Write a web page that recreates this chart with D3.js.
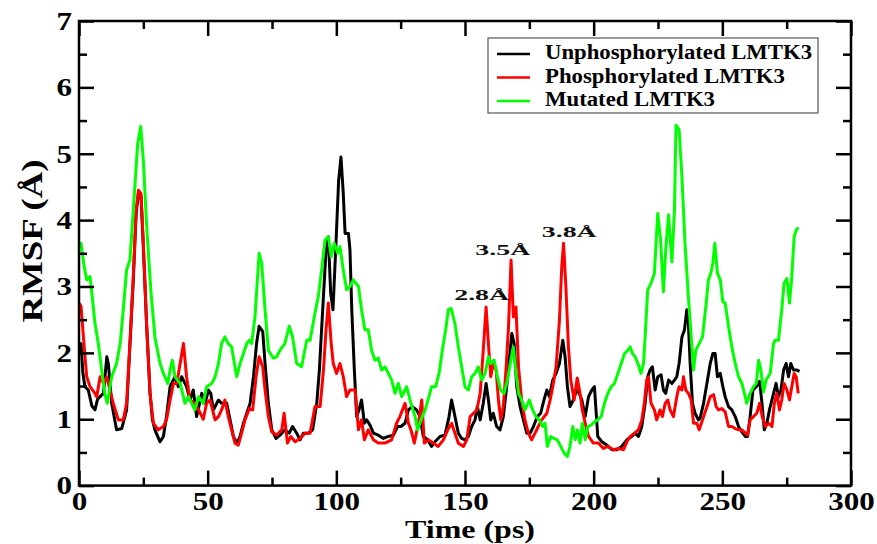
<!DOCTYPE html>
<html><head><meta charset="utf-8">
<script src="https://cdn.jsdelivr.net/npm/d3@7"></script>
<style>body{margin:0;background:#fff}svg{display:block}</style>
</head><body>
<svg id="chart" width="877" height="544"></svg>
<script>
const xMajorTicks = [0,50,100,150,200,250,300];
const xMinorTicks = [25,75,125,175,225,275];
const yMajorTicks = [0,1,2,3,4,5,6,7];
const yMinorTicks = [0.5,1.5,2.5,3.5,4.5,5.5,6.5];
const seriesNames = ["Unphosphorylated LMTK3","Phosphorylated LMTK3","Mutated LMTK3"];
const seriesColors = ["#000000","#ff0000","#00ff00"];

const unphosphorylated = [[0,2.1],[0.8,2.14],[1.5,1.7],[2.3,1.49],[3.6,1.44],[5,1.2],[6.2,1.14],[7.2,1.3],[8.2,1.34],[9.5,1.39],[10.8,1.94],[11.4,1.84],[12.7,1.24],[14.6,0.84],[16.6,0.86],[18.5,1.14],[19.8,2.14],[21.1,3.1],[22.2,4.1],[23.1,4.4],[24.1,4.35],[25,3.6],[26.3,2.4],[27.6,1.4],[28.5,1.0],[29.5,0.84],[31.5,0.66],[32.8,0.74],[34,1.04],[35.4,1.49],[37.3,1.64],[38.6,1.49],[39.9,1.64],[41.8,1.49],[43.1,1.29],[44.4,1.44],[45.7,1.04],[47.7,1.39],[49,1.24],[50.3,1.44],[51.2,1.39],[52.2,1.14],[54.2,1.29],[55.4,1.24],[57.4,1.24],[58.7,0.99],[60,0.74],[61.3,0.64],[62.6,0.74],[63.9,0.94],[65.2,1.09],[66.5,1.24],[67.8,1.64],[69,2.14],[70,2.4],[71.4,2.32],[72.3,1.84],[73.6,1.24],[74.9,0.84],[76.6,0.71],[78.1,0.76],[80,0.84],[81.7,0.79],[83,0.89],[84.6,0.79],[85.9,0.69],[87.2,0.79],[89.1,0.79],[90.8,0.84],[92.4,1.24],[93.4,1.74],[94.7,2.65],[96,3.55],[96.9,3.75],[97.8,2.9],[98.7,2.65],[99.8,3.6],[100.9,4.6],[101.8,4.95],[102.7,4.4],[103.4,3.8],[104.7,3.8],[105.3,3.55],[106,2.65],[107,1.74],[107.9,1.04],[108.8,1.14],[109.8,1.29],[110.9,0.94],[111.8,0.99],[113.1,0.91],[114.4,0.79],[116.3,0.76],[118.3,0.71],[120.2,0.74],[122.2,0.76],[123.8,0.89],[125.1,0.89],[126.7,0.94],[128,1.14],[129.5,1.19],[131.2,1.14],[132.5,1.04],[133.8,0.74],[135.5,0.69],[137,0.59],[138.3,0.66],[140.3,0.74],[142.2,0.76],[143.8,1.04],[144.8,1.29],[146.1,1.04],[147.4,0.79],[148.7,0.71],[150,0.69],[151.3,0.74],[152.6,0.89],[153.9,0.99],[154.8,1.19],[155.9,0.99],[157.1,1.24],[158.2,1.54],[159.1,1.29],[160,0.99],[161,1.09],[162.3,0.89],[163.6,0.84],[164.9,1.04],[166.2,1.49],[167.3,1.94],[168.2,2.29],[169.1,2.14],[170.1,1.49],[171.4,1.19],[172.7,0.99],[174,0.79],[175.3,0.79],[176.6,0.89],[178.1,1.04],[179.4,1.09],[180.7,1.29],[181.8,1.44],[182.8,1.34],[184.1,1.59],[185.4,1.69],[186.7,1.84],[188,2.19],[188.9,1.94],[189.8,1.49],[190.8,1.19],[192.1,1.29],[193.4,1.44],[194.4,1.39],[195.4,1.29],[196.7,1.04],[198,1.34],[199.3,1.44],[200.3,1.49],[200.9,1.14],[201.6,0.74],[203.2,0.66],[205.1,0.61],[207.1,0.54],[209,0.54],[210.9,0.59],[212.9,0.69],[214.8,0.74],[216.1,0.79],[217.4,0.74],[218.7,0.89],[220,1.24],[221,1.64],[221.9,1.74],[222.8,1.79],[223.9,1.44],[224.9,1.64],[226.2,1.67],[227.1,1.44],[228,1.39],[229.1,1.59],[230.4,1.54],[231.4,1.59],[232.3,1.64],[233.2,1.84],[234.3,2.24],[235.3,2.35],[236.2,2.65],[236.8,2.45],[237.5,1.84],[238.4,1.24],[239.4,1.09],[240.7,0.99],[241.4,1.02],[242.7,1.24],[244,1.54],[245.3,1.84],[246.3,1.99],[247.2,1.99],[248.1,1.64],[249.2,1.69],[250.2,1.49],[251.1,1.34],[252.4,1.19],[253.7,1.14],[255,1.04],[256.3,0.89],[257.6,0.81],[258.9,0.74],[259.8,0.74],[260.8,1.04],[261.9,1.44],[263.2,1.49],[264.5,1.57],[265.4,1.24],[266.3,0.84],[267.3,0.94],[268.3,1.14],[269.6,1.34],[270.9,1.54],[271.8,1.34],[272.8,1.44],[273.8,1.74],[274.8,1.84],[275.7,1.64],[276.6,1.84],[277.7,1.74],[279,1.74],[280,1.72]];

const phosphorylated = [[0,2.75],[0.8,2.7],[2,2.1],[3,1.64],[4.3,1.49],[6.2,1.39],[6.9,1.34],[8.2,1.64],[9.5,1.54],[10.8,1.64],[12,1.44],[13.3,1.24],[15.3,0.99],[17.2,0.99],[18.5,1.24],[19.8,2.14],[21.1,3.15],[22.2,4.15],[23.1,4.45],[24.1,4.4],[25,3.65],[26.3,2.4],[27.6,1.39],[28.9,0.94],[30.8,0.84],[32.8,0.89],[34,0.99],[35.4,1.29],[36.7,1.54],[38,1.54],[39.3,1.84],[40.6,2.14],[41.8,1.64],[43.1,1.29],[45,1.24],[47,1.1],[48.3,1.0],[49.6,1.24],[50.9,1.29],[52.9,0.99],[54.2,1.04],[55.4,1.14],[56.7,1.29],[58,1.04],[59.3,0.84],[60.6,0.64],[61.9,0.61],[63.2,0.79],[64.5,0.99],[66.2,1.16],[67.5,1.14],[68.8,1.64],[70,1.94],[71.4,1.79],[72.3,1.44],[73.6,1.04],[74.9,0.81],[76.8,0.76],[78.8,0.84],[79.7,1.09],[81,0.64],[82.3,0.74],[84,0.66],[85.9,0.71],[87.8,0.79],[89.8,0.79],[91.7,1.19],[93.7,1.19],[95,1.74],[96,2.35],[96.9,2.75],[98,2.14],[98.8,1.84],[100.1,1.69],[101.4,1.84],[102.7,1.64],[104,1.34],[105.3,1.44],[107.3,1.44],[108.6,0.84],[109.8,0.99],[110.9,0.69],[112.4,0.84],[114.4,0.69],[116.3,0.64],[118.9,0.64],[121.5,0.69],[123.4,0.94],[124.7,1.04],[126.7,1.24],[128,0.94],[129,0.84],[130.3,0.64],[131.9,0.94],[133.2,1.29],[134.2,0.64],[135.8,0.69],[137.7,0.64],[139.6,0.59],[141.6,0.69],[143.3,0.84],[144.8,0.94],[146.1,0.79],[147.4,0.64],[149.4,0.59],[150.7,0.69],[152,1.04],[153.3,1.09],[154.6,1.14],[155.9,1.39],[157.1,2.04],[158.2,2.69],[159.1,2.14],[160,1.64],[161,1.84],[162.1,1.74],[163,1.29],[163.9,0.99],[164.9,1.19],[166,1.79],[166.9,2.39],[167.9,3.4],[168.8,2.54],[169.8,2.69],[170.8,1.79],[172,1.29],[173.3,0.99],[174.6,0.79],[175.9,0.69],[177.2,0.79],[178.5,0.89],[179.8,0.99],[181.8,1.09],[183.1,1.29],[184.1,1.49],[185.4,1.79],[186.7,2.49],[187.6,3.3],[188.3,3.65],[189.2,3.0],[190.2,2.09],[191.1,1.59],[192.4,1.29],[193.6,1.62],[194.7,1.39],[195.6,1.14],[196.7,0.94],[198,0.74],[199.9,0.64],[201.9,0.64],[203.8,0.56],[205.7,0.59],[207.7,0.54],[209.6,0.56],[211.6,0.54],[212.9,0.66],[214.2,0.74],[215.9,0.79],[217.4,0.84],[218.7,0.99],[219.7,1.24],[220.6,1.59],[221.3,1.64],[222.3,1.24],[223.6,1.14],[224.5,0.99],[225.8,1.14],[226.7,1.04],[227.8,1.24],[228.8,1.29],[229.7,1.14],[231,1.04],[232.3,1.34],[233.2,1.49],[234.3,1.44],[234.9,1.64],[235.8,1.44],[236.8,1.39],[237.9,1.29],[238.8,0.94],[240.1,0.94],[241,0.84],[242.3,0.99],[243.6,1.14],[245.3,1.34],[246.6,1.37],[247.6,1.19],[248.5,1.14],[249.8,1.16],[251.1,1.11],[252.4,0.89],[253.7,0.89],[255,0.86],[256.3,0.84],[257.6,0.84],[258.9,0.79],[259.8,0.76],[260.8,0.99],[262.1,1.04],[263.4,1.09],[264.5,1.24],[265.5,1.04],[266.7,0.89],[268,0.94],[269.3,0.89],[270.2,1.24],[271.2,1.39],[272.2,1.14],[273.1,1.29],[274,1.54],[275.1,1.44],[276.1,1.29],[277,1.49],[277.9,1.69],[278.7,1.64],[279.5,1.39]];

const mutated = [[0,3.65],[0.8,3.65],[2,3.3],[3,3.1],[4.3,3.15],[6.2,2.45],[7.5,2.14],[8.8,1.74],[10,1.39],[11,1.24],[12.7,1.64],[14.6,1.84],[16,2.14],[17.2,2.65],[18.5,3.25],[19.8,3.4],[21.1,4.15],[22.8,5.15],[24,5.41],[25,4.9],[26.3,3.9],[28,2.9],[29.5,2.24],[31.5,1.84],[32.8,1.69],[34.5,1.54],[35.4,1.74],[36.3,1.89],[37.3,1.64],[39.3,1.54],[41.2,1.24],[42.5,1.34],[45,1.14],[46.4,1.34],[48.3,1.24],[49.6,1.49],[51.6,1.54],[52.9,1.64],[54.2,1.84],[55.4,2.14],[56.7,2.24],[58,2.14],[59.3,2.09],[61.3,1.64],[62.6,1.84],[63.9,1.99],[65.2,2.14],[66.2,2.19],[67.1,2.14],[68.4,2.55],[70,3.5],[71,3.35],[72.3,2.65],[73.6,2.04],[75.5,1.92],[76.8,1.94],[78.1,2.04],[80,2.14],[81.7,2.4],[83,2.24],[84.6,1.84],[86.5,1.79],[88.5,2.19],[89.8,2.19],[91.7,2.6],[93,2.85],[94.3,3.25],[95.6,3.7],[96.9,3.75],[98,3.45],[99.2,3.65],[100.5,3.5],[101.4,3.6],[102.7,3.25],[104,2.95],[105.3,3.0],[106.6,3.1],[108.6,3.0],[109.8,2.65],[111.1,2.35],[112.4,2.35],[113.7,2.04],[115,1.89],[116.3,1.92],[117.6,1.74],[118.9,1.79],[120.2,1.69],[121.5,1.59],[122.8,1.39],[124.1,1.54],[125.4,1.34],[127.3,1.49],[129,1.24],[130.6,1.04],[131.6,0.84],[132.9,0.99],[134.5,1.14],[136,1.34],[137,1.49],[138.6,1.49],[139.9,1.69],[141.2,2.04],[142.5,2.35],[143.5,2.65],[144.6,2.67],[146.1,2.44],[147.4,2.09],[148.7,1.79],[150,1.49],[151.3,1.44],[152.6,1.64],[153.9,1.69],[155.2,1.79],[156.5,1.59],[157.8,1.69],[159.1,1.94],[160,1.84],[161.3,1.89],[162.6,1.64],[163.9,1.44],[165.2,1.39],[166.5,1.59],[167.8,1.89],[168.8,2.09],[169.8,1.69],[170.8,1.39],[172,1.29],[173.3,1.14],[175,1.29],[176.3,1.14],[177.6,1.04],[178.9,0.99],[180.2,0.89],[181.1,0.94],[182,0.59],[183.3,0.74],[184.6,0.71],[185.9,0.69],[187.2,0.59],[188.5,0.49],[189.8,0.44],[190.8,0.59],[191.9,0.89],[192.8,0.69],[193.7,0.84],[194.7,0.64],[195.6,0.94],[196.7,0.69],[197.7,0.89],[199,0.91],[200.3,0.96],[201.6,0.99],[202.9,1.04],[204.2,1.24],[205.5,1.39],[206.8,1.49],[208.1,1.54],[209.4,1.69],[210.7,1.84],[212,1.99],[213.3,2.04],[214.2,2.09],[215.1,1.99],[216.1,1.94],[217.2,1.84],[218.4,1.69],[219.4,1.84],[220.3,2.45],[221,2.95],[222.3,3.05],[223.6,3.2],[224.9,4.1],[226,3.7],[227.1,2.92],[228,3.55],[229.1,4.08],[230.4,3.37],[231.4,4.15],[232,5.43],[233.2,5.36],[234.3,4.65],[235.5,3.65],[236.8,2.85],[237.9,2.24],[238.8,1.74],[239.7,2.04],[241,2.14],[242.3,2.24],[243.6,2.7],[244.6,3.1],[245.5,3.2],[246.3,3.35],[247.1,3.65],[248.1,3.2],[249.2,3.1],[250.2,2.77],[251.1,2.75],[252.4,2.4],[253.7,2.09],[255,1.84],[256.3,1.64],[257.6,1.54],[258.9,1.34],[259.5,1.24],[260.8,1.39],[262.1,1.49],[263.2,1.54],[264.1,1.89],[265,1.74],[266,1.41],[267,1.59],[268.6,1.69],[269.9,2.14],[270.5,2.19],[271.8,2.19],[273.1,2.65],[274,3.05],[275.1,3.12],[276.1,2.75],[277,3.15],[277.9,3.75],[278.7,3.85],[279.6,3.89]];

const annotationLabels = ["2.8Å","3.5Å","3.8Å"];
const annotationTimes = [156.5,164.7,190.5];
const annotationValues = [2.795,3.473,3.748];

const svg = d3.select("#chart");
const W = 877, H = 544;
const margin = {left:79, right:26, top:21, bottom:58.4};
const x = d3.scaleLinear().domain([0,300]).range([margin.left, W - margin.right]);
const y = d3.scaleLinear().domain([0,7]).range([H - margin.bottom, margin.top]);
const FONT = "'Liberation Serif','Times New Roman',serif";

svg.append("rect").attr("width",W).attr("height",H).attr("fill","#fff");

// lines
const line = d3.line().x(d => x(d[0])).y(d => y(d[1]));
[unphosphorylated, phosphorylated, mutated].forEach((s,i) => {
  svg.append("path").datum(s).attr("d", line)
    .attr("fill","none").attr("stroke",seriesColors[i])
    .attr("stroke-width",3).attr("stroke-linejoin","round");
});

function styleTicks(g){
  g.select(".domain").remove();
  g.selectAll(".tick line").attr("stroke","#000").attr("stroke-width",2.5);
  g.selectAll(".tick text")
    .attr("font-family",FONT).attr("font-weight","bold").attr("font-size",26)
    .attr("fill","#000")
    .attr("textLength", d => String(d).length * 15.5)
    .attr("lengthAdjust","spacingAndGlyphs");
}
const yB = H - margin.bottom;
// bottom
svg.append("g").attr("transform",`translate(0,${yB})`)
  .call(d3.axisBottom(x).tickValues(xMinorTicks).tickSizeInner(-8).tickSizeOuter(0).tickFormat(""))
  .call(styleTicks);
svg.append("g").attr("transform",`translate(0,${yB})`)
  .call(d3.axisBottom(x).tickValues(xMajorTicks).tickSizeInner(-15).tickSizeOuter(0).tickPadding(6).tickFormat(d3.format("d")))
  .call(styleTicks);
// top
svg.append("g").attr("transform",`translate(0,${margin.top})`)
  .call(d3.axisTop(x).tickValues(xMinorTicks).tickSizeInner(-8).tickSizeOuter(0).tickFormat(""))
  .call(styleTicks);
svg.append("g").attr("transform",`translate(0,${margin.top})`)
  .call(d3.axisTop(x).tickValues(xMajorTicks).tickSizeInner(-15).tickSizeOuter(0).tickFormat(""))
  .call(styleTicks);
// left
svg.append("g").attr("transform",`translate(${margin.left},0)`)
  .call(d3.axisLeft(y).tickValues(yMinorTicks).tickSizeInner(-8).tickSizeOuter(0).tickFormat(""))
  .call(styleTicks);
svg.append("g").attr("transform",`translate(${margin.left},0)`)
  .call(d3.axisLeft(y).tickValues(yMajorTicks).tickSizeInner(-15).tickSizeOuter(0).tickPadding(7).tickFormat(d3.format("d")))
  .call(styleTicks);
// right
svg.append("g").attr("transform",`translate(${W-margin.right},0)`)
  .call(d3.axisRight(y).tickValues(yMinorTicks).tickSizeInner(-8).tickSizeOuter(0).tickFormat(""))
  .call(styleTicks);
svg.append("g").attr("transform",`translate(${W-margin.right},0)`)
  .call(d3.axisRight(y).tickValues(yMajorTicks).tickSizeInner(-15).tickSizeOuter(0).tickFormat(""))
  .call(styleTicks);

// frame
svg.append("rect").attr("x",x(0)).attr("y",y(7)).attr("width",x(300)-x(0)).attr("height",y(0)-y(7))
  .attr("fill","none").attr("stroke","#000").attr("stroke-width",2.5);

// axis titles
svg.append("text").attr("x",470).attr("y",538).attr("text-anchor","middle")
  .attr("font-family",FONT).attr("font-weight","bold").attr("font-size",25)
  .attr("textLength",130).attr("lengthAdjust","spacingAndGlyphs").text("Time (ps)");
svg.append("text").attr("transform","translate(42,241) rotate(-90)").attr("text-anchor","middle")
  .attr("font-family",FONT).attr("font-weight","bold").attr("font-size",29)
  .attr("textLength",163).attr("lengthAdjust","spacingAndGlyphs").text("RMSF (Å)");

// annotations
annotationLabels.forEach((lab,i) => {
  svg.append("text").attr("x",x(annotationTimes[i])).attr("y",y(annotationValues[i]))
    .attr("text-anchor","middle").attr("font-family",FONT).attr("font-weight","bold")
    .attr("font-size",15).attr("textLength",55).attr("lengthAdjust","spacingAndGlyphs")
    .attr("fill","#111").text(lab);
});

// legend
const leg = svg.append("g");
leg.append("rect").attr("x",488).attr("y",38).attr("width",330).attr("height",75)
  .attr("fill","#fff").attr("stroke","#555").attr("stroke-width",1.2);
const legTextLen = [267,240,170];
seriesNames.forEach((n,i) => {
  const cy = 54 + i*23.5;
  leg.append("line").attr("x1",497).attr("x2",530).attr("y1",cy).attr("y2",cy)
    .attr("stroke",seriesColors[i]).attr("stroke-width",2.5);
  leg.append("text").attr("x",545).attr("y",cy+5).attr("font-family",FONT).attr("font-weight","bold")
    .attr("font-size",20).attr("textLength",legTextLen[i]).attr("lengthAdjust","spacingAndGlyphs")
    .text(n);
});
</script>
</body></html>
